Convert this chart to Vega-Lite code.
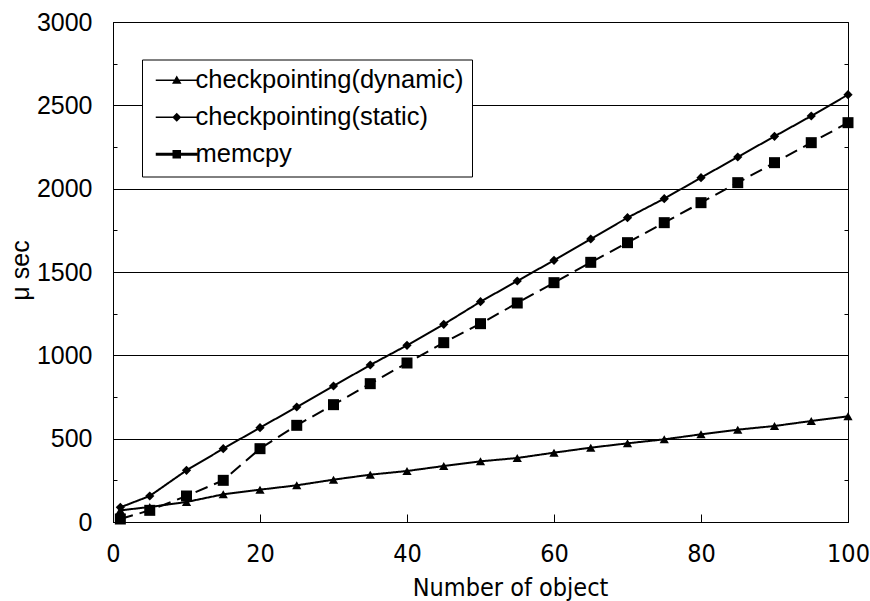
{
  "$schema": "https://vega.github.io/schema/vega-lite/v6.json",
  "autosize": "none",
  "width": 735,
  "height": 500,
  "padding": {"left": 113, "top": 22, "right": 22, "bottom": 79},
  "background": "white",
  "config": {
    "view": {"stroke": "black", "strokeWidth": 1},
    "axis": {"domainColor": "black", "tickColor": "black", "labelColor": "black", "titleColor": "black", "titleFontWeight": "normal"}
  },
  "data": {
    "values": [
      {"x": 1, "series": "checkpointing(dynamic)", "y": 70},
      {"x": 5, "series": "checkpointing(dynamic)", "y": 90},
      {"x": 10, "series": "checkpointing(dynamic)", "y": 120},
      {"x": 15, "series": "checkpointing(dynamic)", "y": 166},
      {"x": 20, "series": "checkpointing(dynamic)", "y": 194},
      {"x": 25, "series": "checkpointing(dynamic)", "y": 220},
      {"x": 30, "series": "checkpointing(dynamic)", "y": 254},
      {"x": 35, "series": "checkpointing(dynamic)", "y": 284},
      {"x": 40, "series": "checkpointing(dynamic)", "y": 306},
      {"x": 45, "series": "checkpointing(dynamic)", "y": 336},
      {"x": 50, "series": "checkpointing(dynamic)", "y": 364},
      {"x": 55, "series": "checkpointing(dynamic)", "y": 384},
      {"x": 60, "series": "checkpointing(dynamic)", "y": 416},
      {"x": 65, "series": "checkpointing(dynamic)", "y": 446},
      {"x": 70, "series": "checkpointing(dynamic)", "y": 472},
      {"x": 75, "series": "checkpointing(dynamic)", "y": 496},
      {"x": 80, "series": "checkpointing(dynamic)", "y": 526},
      {"x": 85, "series": "checkpointing(dynamic)", "y": 554},
      {"x": 90, "series": "checkpointing(dynamic)", "y": 576},
      {"x": 95, "series": "checkpointing(dynamic)", "y": 606},
      {"x": 100, "series": "checkpointing(dynamic)", "y": 634},
      {"x": 1, "series": "checkpointing(static)", "y": 88},
      {"x": 5, "series": "checkpointing(static)", "y": 156},
      {"x": 10, "series": "checkpointing(static)", "y": 310},
      {"x": 15, "series": "checkpointing(static)", "y": 440},
      {"x": 20, "series": "checkpointing(static)", "y": 566},
      {"x": 25, "series": "checkpointing(static)", "y": 690},
      {"x": 30, "series": "checkpointing(static)", "y": 816},
      {"x": 35, "series": "checkpointing(static)", "y": 942},
      {"x": 40, "series": "checkpointing(static)", "y": 1060},
      {"x": 45, "series": "checkpointing(static)", "y": 1186},
      {"x": 50, "series": "checkpointing(static)", "y": 1322},
      {"x": 55, "series": "checkpointing(static)", "y": 1446},
      {"x": 60, "series": "checkpointing(static)", "y": 1570},
      {"x": 65, "series": "checkpointing(static)", "y": 1698},
      {"x": 70, "series": "checkpointing(static)", "y": 1826},
      {"x": 75, "series": "checkpointing(static)", "y": 1940},
      {"x": 80, "series": "checkpointing(static)", "y": 2066},
      {"x": 85, "series": "checkpointing(static)", "y": 2190},
      {"x": 90, "series": "checkpointing(static)", "y": 2314},
      {"x": 95, "series": "checkpointing(static)", "y": 2436},
      {"x": 100, "series": "checkpointing(static)", "y": 2564},
      {"x": 1, "series": "memcpy", "y": 18},
      {"x": 5, "series": "memcpy", "y": 70},
      {"x": 10, "series": "memcpy", "y": 156},
      {"x": 15, "series": "memcpy", "y": 250},
      {"x": 20, "series": "memcpy", "y": 440},
      {"x": 25, "series": "memcpy", "y": 580},
      {"x": 30, "series": "memcpy", "y": 704},
      {"x": 35, "series": "memcpy", "y": 830},
      {"x": 40, "series": "memcpy", "y": 954},
      {"x": 45, "series": "memcpy", "y": 1076},
      {"x": 50, "series": "memcpy", "y": 1190},
      {"x": 55, "series": "memcpy", "y": 1314},
      {"x": 60, "series": "memcpy", "y": 1436},
      {"x": 65, "series": "memcpy", "y": 1558},
      {"x": 70, "series": "memcpy", "y": 1676},
      {"x": 75, "series": "memcpy", "y": 1796},
      {"x": 80, "series": "memcpy", "y": 1916},
      {"x": 85, "series": "memcpy", "y": 2036},
      {"x": 90, "series": "memcpy", "y": 2156},
      {"x": 95, "series": "memcpy", "y": 2276},
      {"x": 100, "series": "memcpy", "y": 2396}
    ]
  },
  "resolve": {"axis": {"y": "independent"}, "scale": {"shape": "independent"}},
  "layer": [
    {
      "mark": {"type": "line", "color": "black", "strokeWidth": 2},
      "encoding": {
        "x": {
          "field": "x", "type": "quantitative",
          "scale": {"domain": [0, 100], "nice": false},
          "axis": {
            "values": [0, 20, 40, 60, 80, 100],
            "grid": false,
            "tickSize": -8,
            "labelFont": "DejaVu Sans Condensed, DejaVu Sans, sans-serif",
            "labelFontSize": 25,
            "labelPadding": 27,
            "labelFlush": false,
            "labelOverlap": false,
            "title": "Number of object",
            "titleFont": "DejaVu Sans Condensed, DejaVu Sans, sans-serif",
            "titleFontSize": 25,
            "titleX": 397,
            "titleY": 73,
            "titleBaseline": "alphabetic",
            "titleAnchor": "start",
            "titleAlign": "center"
          }
        },
        "y": {
          "field": "y", "type": "quantitative",
          "scale": {"domain": [0, 3000], "nice": false},
          "axis": {
            "values": [0, 250, 500, 750, 1000, 1250, 1500, 1750, 2000, 2250, 2500, 2750, 3000],
            "labelExpr": "datum.value % 500 === 0 ? datum.label : ''",
            "format": "d",
            "grid": true,
            "gridColor": "black",
            "gridWidth": 1,
            "gridOpacity": {"condition": {"test": "datum.value % 500 === 0", "value": 1}, "value": 0},
            "tickSize": -4,
            "labelFont": "Liberation Sans, Arial, sans-serif",
            "labelFontSize": 25,
            "labelPadding": 25,
            "labelOverlap": false,
            "labelFlush": false,
            "title": "μ sec",
            "titleFont": "Liberation Sans, Arial, sans-serif",
            "titleFontSize": 25,
            "titleAngle": -90,
            "titleX": -93,
            "titleY": 248,
            "titleAlign": "center",
            "titleBaseline": "middle"
          }
        },
        "detail": {"field": "series"},
        "strokeDash": {"condition": {"test": "datum.series === 'memcpy'", "value": [13, 7]}, "value": [1, 0]}
      }
    },
    {
      "mark": {"type": "point", "filled": true, "color": "black", "opacity": 1},
      "encoding": {
        "x": {"field": "x", "type": "quantitative"},
        "y": {
          "field": "y", "type": "quantitative",
          "axis": {
            "orient": "right",
            "values": [0, 250, 500, 750, 1000, 1250, 1500, 1750, 2000, 2250, 2500, 2750, 3000],
            "labels": false,
            "grid": false,
            "domain": false,
            "tickSize": -4,
            "title": null
          }
        },
        "shape": {
          "field": "series", "type": "nominal",
          "scale": {
            "domain": ["checkpointing(dynamic)", "checkpointing(static)", "memcpy"],
            "range": ["triangle-up", "diamond", "square"]
          },
          "legend": null
        },
        "size": {"condition": {"test": "datum.series === 'memcpy'", "value": 121}, "value": 85}
      }
    },
    {
      "mark": {"type": "point", "filled": true, "color": "black", "opacity": 0},
      "encoding": {
        "x": {"field": "x", "type": "quantitative"},
        "y": {"field": "y", "type": "quantitative", "axis": null},
        "shape": {
          "field": "series", "type": "nominal",
          "scale": {
            "domain": ["checkpointing(dynamic)", "checkpointing(static)", "memcpy"],
            "range": [
              "M-4.2,-0.15H4.2V0.15H-4.2ZM0,-0.95L0.95,0.7L-0.95,0.7Z",
              "M-4.2,-0.15H4.2V0.15H-4.2ZM0,-0.9L0.9,0L0,0.9L-0.9,0Z",
              "M-4.2,-0.3H4.2V0.3H-4.2ZM-0.85,-0.85H0.85V0.85H-0.85Z"
            ]
          },
          "legend": {
            "title": null,
            "orient": "none",
            "legendX": 29,
            "legendY": 37.5,
            "padding": 8,
            "strokeColor": "black",
            "fillColor": "white",
            "labelFont": "Liberation Sans, Arial, sans-serif",
            "labelFontSize": 25.5,
            "labelColor": "black",
            "labelLimit": 500,
            "symbolSize": 100,
            "symbolOpacity": 1,
            "symbolFillColor": "black",
            "symbolStrokeColor": "black",
            "symbolStrokeWidth": 0.5,
            "symbolOffset": 14,
            "labelOffset": 6,
            "rowPadding": 10
          }
        }
      }
    }
  ]
}
